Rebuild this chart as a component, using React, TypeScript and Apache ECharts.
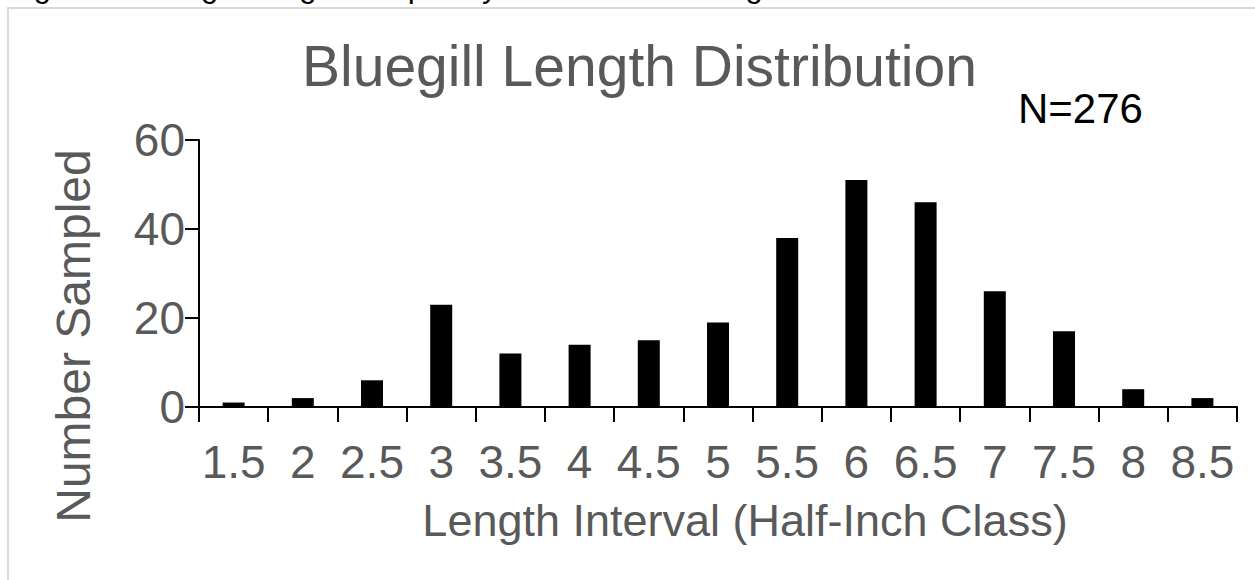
import React, { useEffect, useRef } from "react";
import * as echarts from "echarts";

const categories = ["1.5", "2", "2.5", "3", "3.5", "4", "4.5", "5", "5.5", "6", "6.5", "7", "7.5", "8", "8.5"];
const counts = [1, 2, 6, 23, 12, 14, 15, 19, 38, 51, 46, 26, 17, 4, 2];
const yTicks = { min: 0, max: 60, interval: 20 };
const titleText = "Bluegill Length Distribution";
const noteText = "N=276";
const captionText = "Figure 1. Bluegill Length Frequency from Electrofishing.";
const xName = "Length Interval (Half-Inch Class)";
const yName = "Number Sampled";

const FONT = "'Liberation Sans', Arial, sans-serif";
const GRAY = "#595959";

export default function App() {
  const ref = useRef<HTMLDivElement>(null);
  useEffect(() => {
    if (!ref.current) return;
    const chart = echarts.init(ref.current, null, { renderer: "svg" });
    chart.setOption({
      animation: false,
      backgroundColor: "#ffffff",
      textStyle: { fontFamily: FONT },
      grid: { left: 199, right: 18, top: 140, bottom: 173, containLabel: false },
      title: {
        text: titleText,
        left: 297,
        top: 32,
        textStyle: { fontFamily: FONT, fontSize: 57, fontWeight: "normal", color: GRAY },
      },
      graphic: [
        {
          type: "rect",
          shape: { x: 8, y: 8, width: 1300, height: 640 },
          style: { fill: "none", stroke: "#d9d9d9", lineWidth: 2 },
          silent: true,
        },
        {
          type: "text",
          x: 8,
          y: 2,
          style: {
            text: captionText,
            font: "31px 'Liberation Sans', Arial, sans-serif",
            fill: "#000",
            verticalAlign: "bottom",
            align: "left",
          },
        },
        {
          type: "text",
          x: 1018,
          y: 108,
          style: {
            text: noteText,
            font: "42px 'Liberation Sans', Arial, sans-serif",
            fill: "#000",
            verticalAlign: "middle",
            align: "left",
          },
        },
        {
          type: "text",
          x: 745,
          y: 520,
          style: {
            text: xName,
            font: "45px 'Liberation Sans', Arial, sans-serif",
            fill: GRAY,
            verticalAlign: "middle",
            align: "center",
          },
        },
        {
          type: "text",
          x: 73,
          y: 336,
          rotation: Math.PI / 2,
          style: {
            text: yName,
            font: "48px 'Liberation Sans', Arial, sans-serif",
            fill: GRAY,
            verticalAlign: "middle",
            align: "center",
          },
        },
      ],
      xAxis: {
        type: "category",
        data: categories,
        boundaryGap: true,
        axisLine: { lineStyle: { color: "#000", width: 2 } },
        axisTick: { show: true, alignWithLabel: false, length: 15, lineStyle: { color: "#000", width: 2 } },
        axisLabel: { fontFamily: FONT, fontSize: 46, color: GRAY, margin: 32, interval: 0 },
        splitLine: { show: false },
      },
      yAxis: {
        type: "value",
        min: yTicks.min,
        max: yTicks.max,
        interval: yTicks.interval,
        axisLine: { show: true, lineStyle: { color: "#000", width: 2 } },
        axisTick: { show: true, length: 14, lineStyle: { color: "#000", width: 2 } },
        axisLabel: { fontFamily: FONT, fontSize: 46, color: GRAY, margin: 14 },
        splitLine: { show: false },
      },
      series: [
        {
          type: "bar",
          data: counts,
          barWidth: 22,
          itemStyle: { color: "#000" },
        },
      ],
    });
    return () => chart.dispose();
  }, []);
  return (
    <div
      ref={ref}
      style={{ position: "fixed", left: 0, top: 0, width: 1255, height: 580 }}
    />
  );
}
